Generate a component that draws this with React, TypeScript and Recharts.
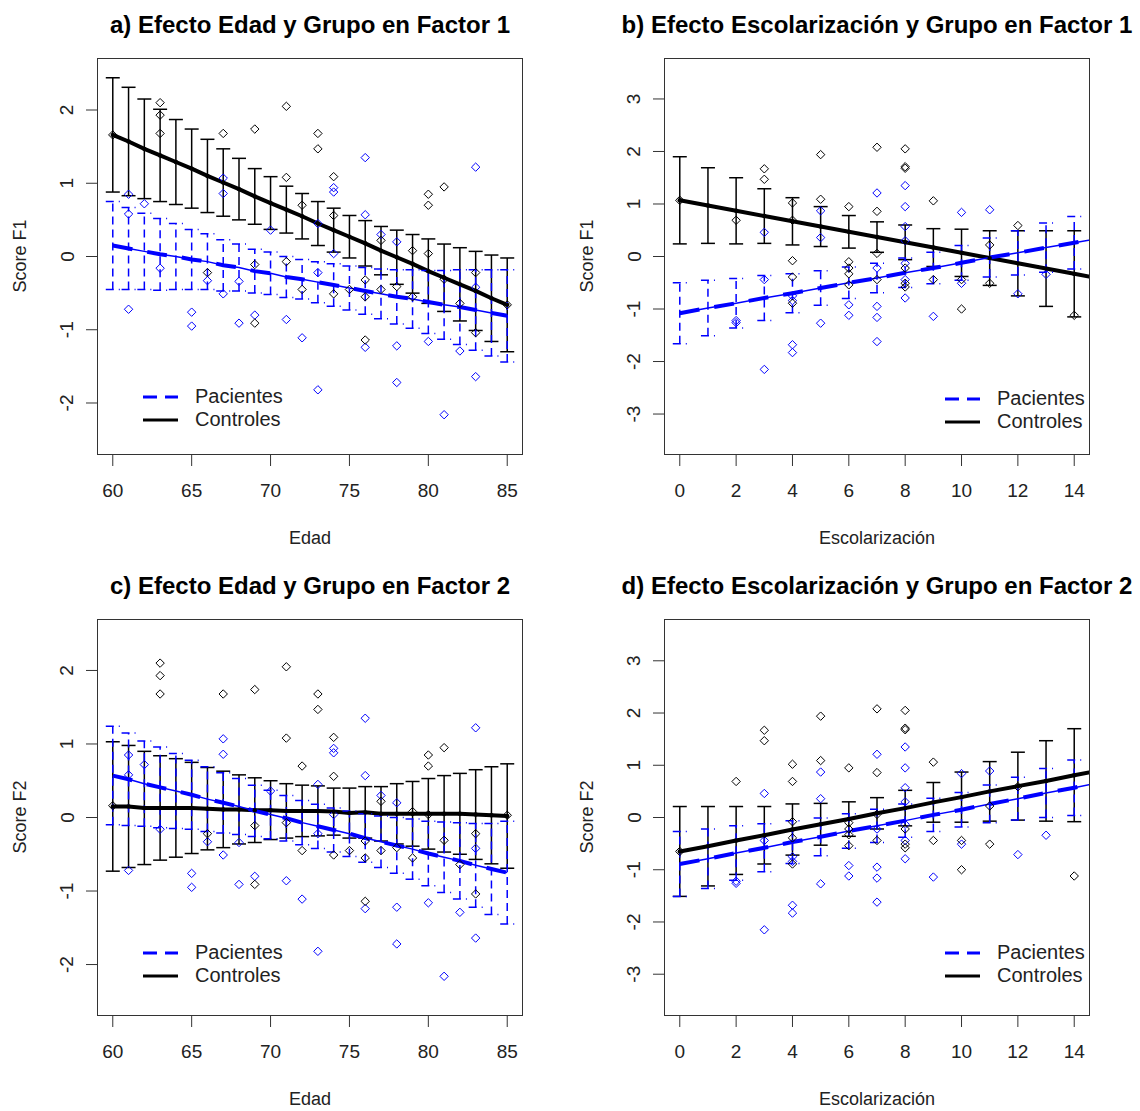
import React from 'react';
import { ComposedChart, XAxis, YAxis, Line, Scatter, ErrorBar } from 'recharts';

// ---- axis ticks ----
const ageTicks = [60, 65, 70, 75, 80, 85];
const eduTicks = [0, 2, 4, 6, 8, 10, 12, 14];
const scoreTicksAge = [-2, -1, 0, 1, 2];
const scoreTicksEdu = [-3, -2, -1, 0, 1, 2, 3];

// ---- x positions of the fitted curves ----
const ageX = [60, 61, 62, 63, 64, 65, 66, 67, 68, 69, 70, 71, 72, 73, 74, 75, 76, 77, 78, 79, 80, 81, 82, 83, 84, 85];
const eduX = [0, 1, 2, 3, 4, 5, 6, 7, 8, 9, 10, 11, 12, 13, 14, 15];

// ---- observed scores (same points in both rows) ----
const ageControles: [number, number][] = [
  [63, 2.1], [63, 1.93], [63, 1.68], [67, 1.68], [69, 1.74], [71, 2.05], [71, 1.08], [73, 1.68], [73, 1.47],
  [74, 1.09], [72, 0.7], [74, 0.56], [77, 0.22], [79, 0.08], [80, 0.04], [80, 0.85], [80, 0.7], [81, 0.95],
  [83, -0.22], [66, -0.22], [69, -0.11], [71, -0.07], [72, -0.45], [74, -0.51], [75, -0.45], [76, -0.32],
  [76, -0.55], [77, -0.45], [78, -0.41], [79, -0.55], [76, -1.14], [82, -0.64], [83, -1.04], [69, -0.91], [81, -0.31],
];
const agePacientes: [number, number][] = [
  [61, 0.85], [61, 0.58], [62, 0.72], [63, -0.16], [61, -0.72], [65, -0.76], [65, -0.95], [66, -0.33], [67, 1.07],
  [67, 0.86], [67, -0.51], [68, -0.34], [68, -0.91], [69, -0.8], [70, 0.36], [71, -0.86], [72, -1.11], [73, 0.45],
  [73, -0.22], [73, -1.82], [74, 0.94], [74, 0.88], [74, 0.04], [76, 1.35], [76, 0.57], [76, -1.24], [77, 0.3],
  [78, 0.2], [78, -1.22], [78, -1.72], [80, -1.16], [81, -2.16], [82, -1.29], [83, 1.22], [83, -0.42], [83, -1.64],
];
const eduControles: [number, number][] = [
  [2, 0.69], [3, 1.67], [3, 1.47], [4, 1.02], [4, 0.69], [4, -0.08], [4, -0.39], [4, -0.89], [5, 1.94], [5, 1.09],
  [6, 0.95], [6, -0.1], [6, -0.22], [6, -0.33], [6, -0.54], [7, 2.08], [7, 0.86], [7, 0.06], [7, -0.44], [8, 2.05],
  [8, 1.71], [8, 1.68], [8, -0.22], [8, -0.51], [8, -0.58], [9, 1.06], [9, -0.44], [10, -0.44], [10, -1.0],
  [11, 0.22], [11, -0.51], [12, 0.59], [14, -1.12],
];
const eduPacientes: [number, number][] = [
  [2, -1.22], [2, -1.26], [3, 0.46], [3, -0.44], [3, -2.15], [4, -0.75], [4, -0.84], [4, -1.68], [4, -1.83],
  [5, 0.87], [5, 0.36], [5, -1.27], [6, -0.92], [6, -1.12], [7, 1.21], [7, -0.22], [7, -0.95], [7, -1.16],
  [7, -1.62], [8, 1.35], [8, 0.95], [8, 0.57], [8, 0.3], [8, -0.13], [8, -0.44], [8, -0.79], [9, -1.14],
  [10, 0.84], [10, -0.51], [11, 0.89], [12, -0.71], [13, -0.34],
];

// endpoints marked on each panel's control curve
const extraA: [number, number][] = [[60, 1.66], [85, -0.66]];
const extraB: [number, number][] = [[0, 1.07]];
const extraC: [number, number][] = [[60, 0.16], [85, 0.03]];
const extraD: [number, number][] = [[0, -0.65]];

// ---- fitted values and error half-widths ----
const fitAControles = [1.66, 1.57, 1.47, 1.38, 1.29, 1.2, 1.1, 1.01, 0.92, 0.82, 0.73, 0.64, 0.55, 0.45, 0.36, 0.27, 0.18, 0.08, -0.01, -0.1, -0.2, -0.29, -0.38, -0.47, -0.57, -0.66];
const errAControles = [0.78, 0.74, 0.68, 0.63, 0.58, 0.54, 0.5, 0.46, 0.42, 0.38, 0.36, 0.32, 0.31, 0.3, 0.3, 0.29, 0.31, 0.33, 0.37, 0.4, 0.44, 0.46, 0.5, 0.54, 0.59, 0.64];
const fitAPacientes = [0.15, 0.11, 0.07, 0.03, 0.0, -0.04, -0.07, -0.12, -0.15, -0.2, -0.23, -0.28, -0.31, -0.35, -0.39, -0.43, -0.47, -0.51, -0.55, -0.58, -0.62, -0.66, -0.69, -0.73, -0.77, -0.81];
const errAPacientes = [0.6, 0.56, 0.52, 0.49, 0.45, 0.41, 0.38, 0.35, 0.32, 0.3, 0.29, 0.28, 0.27, 0.28, 0.29, 0.3, 0.32, 0.34, 0.37, 0.4, 0.43, 0.47, 0.51, 0.55, 0.59, 0.63];

const fitBControles = [1.07, 0.97, 0.87, 0.77, 0.67, 0.57, 0.47, 0.37, 0.27, 0.17, 0.07, -0.03, -0.13, -0.23, -0.33, -0.43];
const errBControles = [0.83, 0.72, 0.63, 0.52, 0.45, 0.38, 0.31, 0.29, 0.33, 0.36, 0.45, 0.52, 0.62, 0.72, 0.82];
const fitBPacientes = [-1.08, -0.98, -0.89, -0.79, -0.7, -0.6, -0.5, -0.41, -0.31, -0.22, -0.12, -0.02, 0.07, 0.17, 0.26, 0.36];
const errBPacientes = [0.58, 0.53, 0.47, 0.43, 0.37, 0.33, 0.3, 0.28, 0.28, 0.3, 0.33, 0.37, 0.42, 0.47, 0.5];

const fitCControles = [0.15, 0.15, 0.13, 0.13, 0.13, 0.13, 0.12, 0.11, 0.11, 0.1, 0.1, 0.09, 0.09, 0.09, 0.08, 0.06, 0.07, 0.05, 0.05, 0.05, 0.05, 0.05, 0.05, 0.04, 0.03, 0.02];
const errCControles = [0.88, 0.83, 0.77, 0.71, 0.67, 0.62, 0.56, 0.52, 0.47, 0.44, 0.4, 0.37, 0.35, 0.34, 0.32, 0.34, 0.35, 0.37, 0.41, 0.44, 0.48, 0.52, 0.55, 0.61, 0.66, 0.71];
const fitCPacientes = [0.57, 0.52, 0.46, 0.41, 0.36, 0.31, 0.25, 0.2, 0.15, 0.09, 0.04, -0.01, -0.07, -0.12, -0.17, -0.22, -0.28, -0.33, -0.38, -0.43, -0.49, -0.54, -0.59, -0.65, -0.7, -0.75];
const errCPacientes = [0.67, 0.63, 0.58, 0.55, 0.51, 0.47, 0.44, 0.41, 0.38, 0.35, 0.33, 0.31, 0.3, 0.3, 0.3, 0.31, 0.33, 0.35, 0.38, 0.41, 0.44, 0.48, 0.52, 0.57, 0.62, 0.7];

const fitDControles = [-0.65, -0.55, -0.44, -0.34, -0.23, -0.13, -0.03, 0.08, 0.18, 0.29, 0.39, 0.5, 0.6, 0.7, 0.81, 0.91];
const errDControles = [0.86, 0.76, 0.65, 0.55, 0.49, 0.4, 0.33, 0.3, 0.34, 0.38, 0.48, 0.57, 0.65, 0.77, 0.89];
const fitDPacientes = [-0.89, -0.79, -0.68, -0.58, -0.47, -0.37, -0.26, -0.16, -0.06, 0.05, 0.15, 0.26, 0.36, 0.47, 0.57, 0.68];
const errDPacientes = [0.62, 0.57, 0.52, 0.46, 0.41, 0.36, 0.33, 0.32, 0.32, 0.32, 0.33, 0.36, 0.41, 0.47, 0.53];

const BLUE = '#0000ff';
const FONT = '"Liberation Sans", Arial, sans-serif';

const toPts = (arr: [number, number][]) => arr.map(([x, y]) => ({ x, y }));
const lineData = (xs: number[], fit: number[]) => xs.map((x, i) => ({ x, y: fit[i] }));
const barData = (xs: number[], fit: number[], err: number[]) => err.map((e, i) => ({ x: xs[i], y: fit[i], err: e }));

const diamond = (color: string) => (props: any) => {
  const { cx, cy } = props;
  if (cx == null || cy == null) return <g />;
  const r = 4.2;
  return <path d={`M${cx},${cy - r}L${cx + r},${cy}L${cx},${cy + r}L${cx - r},${cy}Z`} fill="none" stroke={color} strokeWidth={1} />;
};
const smallDot = (props: any) => {
  const { cx, cy } = props;
  if (cx == null || cy == null) return <g />;
  return <circle cx={cx} cy={cy} r={2.2} fill="#000" />;
};
const noDot = () => <g />;

const XTick = (props: any) => {
  const { x, y, payload } = props;
  return (
    <text x={x} y={y} dy={22} textAnchor="middle" dominantBaseline="central" fontSize={19} fill="#222" fontFamily={FONT}>
      {payload.value}
    </text>
  );
};
const YTick = (props: any) => {
  const { x, y, payload } = props;
  const tx = x - 17;
  return (
    <text x={tx} y={y} textAnchor="middle" dominantBaseline="central" fontSize={19} fill="#222" fontFamily={FONT}
      transform={`rotate(-90, ${tx}, ${y})`}>
      {payload.value}
    </text>
  );
};

interface PanelProps {
  left: number;
  top: number;
  title: string;
  xLabel: string;
  yLabel: string;
  xDomain: [number, number];
  xTicks: number[];
  yDomain: [number, number];
  yTicks: number[];
  xs: number[];
  fitC: number[];
  errC: number[];
  fitP: number[];
  errP: number[];
  ptsC: [number, number][];
  ptsP: [number, number][];
  legendLeft: number;
  legendTop: number;
}

const Panel: React.FC<PanelProps> = (p) => {
  const W = 570;
  const H = 555;
  return (
    <div style={{ position: 'absolute', left: p.left, top: p.top, width: W, height: H }}>
      <ComposedChart width={W} height={H} margin={{ top: 58, right: 47, bottom: 40, left: 37 }}>
        <XAxis type="number" dataKey="x" domain={p.xDomain} ticks={p.xTicks} interval={0} allowDataOverflow
          axisLine={false} tickLine={{ stroke: '#333' }} tickSize={11} height={60} tick={<XTick />} />
        <YAxis type="number" dataKey="y" domain={p.yDomain} ticks={p.yTicks} interval={0} allowDataOverflow
          axisLine={false} tickLine={{ stroke: '#333' }} tickSize={11} width={60} tick={<YTick />} />

        <Scatter data={toPts(p.ptsP)} shape={diamond(BLUE)} isAnimationActive={false} />
        <Scatter data={toPts(p.ptsC)} shape={diamond('#000')} isAnimationActive={false} />

        {/* Controles: thick solid fit with CI bars */}
        <Line data={lineData(p.xs, p.fitC)} dataKey="y" stroke="#000" strokeWidth={4} dot={false}
          isAnimationActive={false} type="linear" />
        <Scatter data={barData(p.xs, p.fitC, p.errC)} shape={smallDot} isAnimationActive={false}>
          <ErrorBar dataKey="err" direction="y" width={7} stroke="#000" strokeWidth={1.5} isAnimationActive={false} />
        </Scatter>

        {/* Pacientes: thin line with thick dashes, dashed CI bars */}
        <Line data={lineData(p.xs, p.fitP)} dataKey="y" stroke={BLUE} strokeWidth={1.5} dot={false}
          isAnimationActive={false} type="linear" />
        <Line data={lineData(p.xs, p.fitP)} dataKey="y" stroke={BLUE} strokeWidth={4} strokeDasharray="20 15"
          dot={false} isAnimationActive={false} type="linear" />
        <Scatter data={barData(p.xs, p.fitP, p.errP)} shape={noDot} isAnimationActive={false}>
          <ErrorBar dataKey="err" direction="y" width={7} stroke={BLUE} strokeWidth={1.5} strokeDasharray="8 5"
            isAnimationActive={false} />
        </Scatter>
      </ComposedChart>

      {/* plot frame */}
      <div style={{ position: 'absolute', left: 97, top: 58, width: 426, height: 397, border: '1px solid #333',
        boxSizing: 'border-box', pointerEvents: 'none' }} />

      <div style={{ position: 'absolute', left: 0, top: 10, width: 620, textAlign: 'center', fontSize: 24,
        fontWeight: 'bold', lineHeight: '30px', color: '#000', whiteSpace: 'nowrap' }}>{p.title}</div>
      <div style={{ position: 'absolute', left: 10, top: 527, width: 600, textAlign: 'center', fontSize: 18,
        lineHeight: '22px', color: '#222' }}>{p.xLabel}</div>
      <div style={{ position: 'absolute', left: -130, top: 245, width: 300, height: 22, textAlign: 'center',
        fontSize: 18, lineHeight: '22px', color: '#222', transform: 'rotate(-90deg)' }}>{p.yLabel}</div>

      <div style={{ position: 'absolute', left: p.legendLeft, top: p.legendTop, fontSize: 20, color: '#222' }}>
        <div style={{ display: 'flex', alignItems: 'center', height: 23 }}>
          <svg width={35} height={8} style={{ marginRight: 17 }}>
            <line x1={0} y1={4} x2={35} y2={4} stroke={BLUE} strokeWidth={3} strokeDasharray="14 8" />
          </svg>
          <span>Pacientes</span>
        </div>
        <div style={{ display: 'flex', alignItems: 'center', height: 23 }}>
          <svg width={35} height={8} style={{ marginRight: 17 }}>
            <line x1={0} y1={4} x2={35} y2={4} stroke="#000" strokeWidth={3} />
          </svg>
          <span>Controles</span>
        </div>
      </div>
    </div>
  );
};

export default function App() {
  return (
    <div style={{ position: 'absolute', left: 0, top: 0, width: 1140, height: 1111, background: '#fff',
      fontFamily: FONT }}>
      <Panel left={0} top={0} title="a) Efecto Edad y Grupo en Factor 1" xLabel="Edad" yLabel="Score F1"
        xDomain={[59, 86]} xTicks={ageTicks} yDomain={[-2.71, 2.71]} yTicks={scoreTicksAge}
        xs={ageX} fitC={fitAControles} errC={errAControles} fitP={fitAPacientes} errP={errAPacientes}
        ptsC={[...ageControles, ...extraA]} ptsP={agePacientes} legendLeft={143} legendTop={385} />
      <Panel left={567} top={0} title="b) Efecto Escolarización y Grupo en Factor 1" xLabel="Escolarización"
        yLabel="Score F1" xDomain={[-0.56, 14.56]} xTicks={eduTicks} yDomain={[-3.78, 3.78]} yTicks={scoreTicksEdu}
        xs={eduX} fitC={fitBControles} errC={errBControles} fitP={fitBPacientes} errP={errBPacientes}
        ptsC={[...eduControles, ...extraB]} ptsP={eduPacientes} legendLeft={378} legendTop={387} />
      <Panel left={0} top={561} title="c) Efecto Edad y Grupo en Factor 2" xLabel="Edad" yLabel="Score F2"
        xDomain={[59, 86]} xTicks={ageTicks} yDomain={[-2.7, 2.7]} yTicks={scoreTicksAge}
        xs={ageX} fitC={fitCControles} errC={errCControles} fitP={fitCPacientes} errP={errCPacientes}
        ptsC={[...ageControles, ...extraC]} ptsP={agePacientes} legendLeft={143} legendTop={380} />
      <Panel left={567} top={561} title="d) Efecto Escolarización y Grupo en Factor 2" xLabel="Escolarización"
        yLabel="Score F2" xDomain={[-0.56, 14.56]} xTicks={eduTicks} yDomain={[-3.8, 3.8]} yTicks={scoreTicksEdu}
        xs={eduX} fitC={fitDControles} errC={errDControles} fitP={fitDPacientes} errP={errDPacientes}
        ptsC={[...eduControles, ...extraD]} ptsP={eduPacientes} legendLeft={378} legendTop={380} />
    </div>
  );
}
